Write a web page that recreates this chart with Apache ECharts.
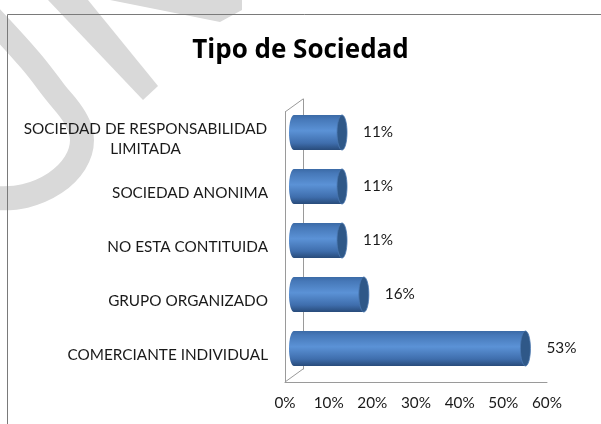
<!DOCTYPE html>
<html>
<head>
<meta charset="utf-8">
<script src="https://cdn.jsdelivr.net/npm/echarts@6/dist/echarts.min.js"></script>
<style>
  html, body { margin: 0; padding: 0; background: #fff; }
  #chart { width: 601px; height: 424px; }
</style>
</head>
<body>
<div id="chart"></div>
<script>
// data, bottom category first (as in the Excel chart)
var categories = ['COMERCIANTE INDIVIDUAL', 'GRUPO ORGANIZADO', 'NO ESTA CONTITUIDA', 'SOCIEDAD ANONIMA', 'SOCIEDAD DE RESPONSABILIDAD\nLIMITADA'];
var percents = [53, 16, 11, 11, 11];
var xTicks = [0, 10, 20, 30, 40, 50, 60];

(function(){
    var myChart = echarts.init(document.getElementById('chart'));

    var font = 'Lato, "Liberation Sans", sans-serif';
    var fontSize = 15.3;
    // front plane of the pseudo 3D box
    var fx = 285, fy = 112, fw = 262, fh = 270;
    var depthX = 18, depthY = -13;   // offset of the back wall
    var barX = fx + depthX / 2, barY = fy + depthY / 2;
    var wallColor = '#9a9a9a';

    // the two-line label is centred on itself but right-aligned as a block
    var catData = categories.map(function (c) {
        if (c.indexOf('\n') >= 0) {
            return { value: c, textStyle: { align: 'center', padding: [18, 245, 0, 0] } };
        }
        return c;
    });

    function cylinder(params, api) {
        var s = api.coord([0, api.value(1)]);
        var e = api.coord([api.value(0), api.value(1)]);
        var h = api.size([0, 1])[1] * 0.65;
        var rx = 5;
        var grad = new echarts.graphic.LinearGradient(0, 0, 0, 1, [
            { offset: 0, color: '#3b6aa6' },
            { offset: 0.12, color: '#4678b8' },
            { offset: 0.45, color: '#5b92d6' },
            { offset: 0.8, color: '#3f6ead' },
            { offset: 1, color: '#284b7a' }
        ]);
        return {
            type: 'group',
            children: [
                { type: 'ellipse', shape: { cx: s[0], cy: s[1], rx: rx, ry: h / 2 }, style: { fill: grad } },
                { type: 'rect', shape: { x: s[0], y: s[1] - h / 2, width: e[0] - s[0], height: h }, style: { fill: grad } },
                { type: 'ellipse', shape: { cx: e[0], cy: e[1], rx: rx, ry: h / 2 },
                  style: { fill: '#2f5888', stroke: '#4a77b0', lineWidth: 0.8 } },
                { type: 'text', x: e[0] + rx + 16, y: e[1],
                  style: { text: api.value(0) + '%', fill: '#1a1a1a', font: fontSize + 'px ' + font, align: 'left', verticalAlign: 'middle' } }
            ]
        };
    }

    var option = {
        animation: false,
        backgroundColor: '#fff',
        title: {
            left: 'center',
            top: 38,
            padding: [0, 0, 0, 9],
            text: 'Tipo de Sociedad',
            textStyle: { color: '#000', fontFamily: '"Open Sans", Lato, sans-serif', fontWeight: 'bold', fontSize: 26 }
        },
        graphic: [
            // faint watermark
            { type: 'polygon', z: -10, shape: { points: [[110, 0], [220, 22], [242, 10], [242, 0]] }, style: { fill: '#d9d9d9' } },
            { type: 'polygon', z: -10, shape: { points: [[48, 0], [88, 0], [158, 86], [143, 100]] }, style: { fill: '#d9d9d9' } },
            { type: 'polyline', z: -10, shape: { points: [[-12, 14], [30, 60], [55, 92], [75, 118], [82, 140], [75, 163], [55, 183], [25, 196], [-5, 198]], smooth: 0.4 },
              style: { stroke: '#d9d9d9', lineWidth: 24, fill: null } },
            // page frame
            { type: 'polyline', z: -5, shape: { points: [[601, 14.5], [7.5, 14.5], [7.5, 424]] }, style: { stroke: '#7a7a7a', lineWidth: 1, fill: null } },
            // side wall edges
            { type: 'line', shape: { x1: fx, y1: fy, x2: fx + depthX, y2: fy + depthY }, style: { stroke: wallColor, lineWidth: 1 } },
            { type: 'line', shape: { x1: fx, y1: fy + fh, x2: fx + depthX, y2: fy + fh + depthY }, style: { stroke: wallColor, lineWidth: 1 } }
        ],
        grid: [
            { left: fx, top: fy, width: fw, height: fh },
            { left: barX, top: barY, width: fw, height: fh },
            { left: fx + depthX, top: fy + depthY, width: fw, height: fh }
        ],
        xAxis: [
            {
                gridIndex: 0, type: 'value', min: xTicks[0], max: xTicks[xTicks.length - 1], interval: 10,
                axisLine: { show: true, lineStyle: { color: wallColor } },
                axisTick: { show: false },
                splitLine: { show: false },
                axisLabel: { formatter: '{value}%', color: '#1a1a1a', fontFamily: font, fontSize: fontSize, margin: 14 }
            },
            { gridIndex: 1, type: 'value', min: 0, max: 60, show: false },
            { gridIndex: 2, type: 'value', min: 0, max: 60, show: false }
        ],
        yAxis: [
            {
                gridIndex: 0, type: 'category', data: catData,
                axisLine: { show: true, lineStyle: { color: wallColor } },
                axisTick: { show: false },
                axisLabel: { color: '#1a1a1a', fontFamily: font, fontSize: fontSize, margin: 17, lineHeight: 20, padding: [4, 0, 0, 0] }
            },
            { gridIndex: 1, type: 'category', data: categories, show: false },
            {
                gridIndex: 2, type: 'category', data: categories,
                axisLine: { show: true, lineStyle: { color: wallColor } },
                axisTick: { show: false },
                axisLabel: { show: false }
            }
        ],
        series: [
            {
                type: 'custom',
                xAxisIndex: 1,
                yAxisIndex: 1,
                renderItem: cylinder,
                encode: { x: 0, y: 1 },
                data: percents.map(function (v, i) { return [v, i]; })
            }
        ]
    };

    myChart.setOption(option);
})();
</script>
</body>
</html>
